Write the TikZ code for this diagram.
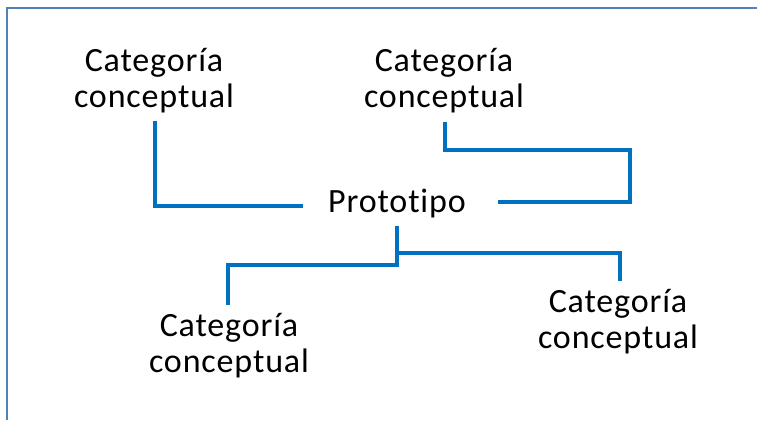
\documentclass[tikz,border=0pt]{standalone}
\usepackage{fontspec}
\setmainfont[Ligatures=NoCommon,LetterSpace=2.5]{Carlito}
\definecolor{linkblue}{RGB}{0,112,192}
\definecolor{frameblue}{RGB}{79,129,189}
\begin{document}
\begin{tikzpicture}[x=1pt,y=-1pt,
  link/.style={draw=linkblue,line width=4.5pt},
  cat/.style={align=center,inner sep=0pt,font=\fontsize{34}{36}\selectfont}]
\useasboundingbox (0,0) rectangle (757,420);
\draw[frameblue,line width=2pt] (7,420) -- (7,8) -- (757,8);
%
\node[cat] (proto) at (397,204) {Prototipo};
\node[cat] (catA) at (154,81) {Categoría\\conceptual};
\node[cat] (catB) at (444,81) {Categoría\\conceptual};
\node[cat] (catC) at (229,346) {Categoría\\conceptual};
\node[cat] (catD) at (618,322) {Categoría\\conceptual};
%
\coordinate (endA) at (155,121);
\coordinate (endB) at (445,122);
\coordinate (endC) at (228,305);
\coordinate (endD) at (620,281);
\coordinate (protoW) at (303,206);
\coordinate (protoE) at (498,202);
\coordinate (protoS) at (397,226);
%
\draw[link] (endA) |- (protoW);
\draw[link] (endB) |- (630,150) |- (protoE);
\draw[link] (protoS) -- (397,265) -| (endC);
\draw[link] (397,253) -| (endD);
\end{tikzpicture}
\end{document}
